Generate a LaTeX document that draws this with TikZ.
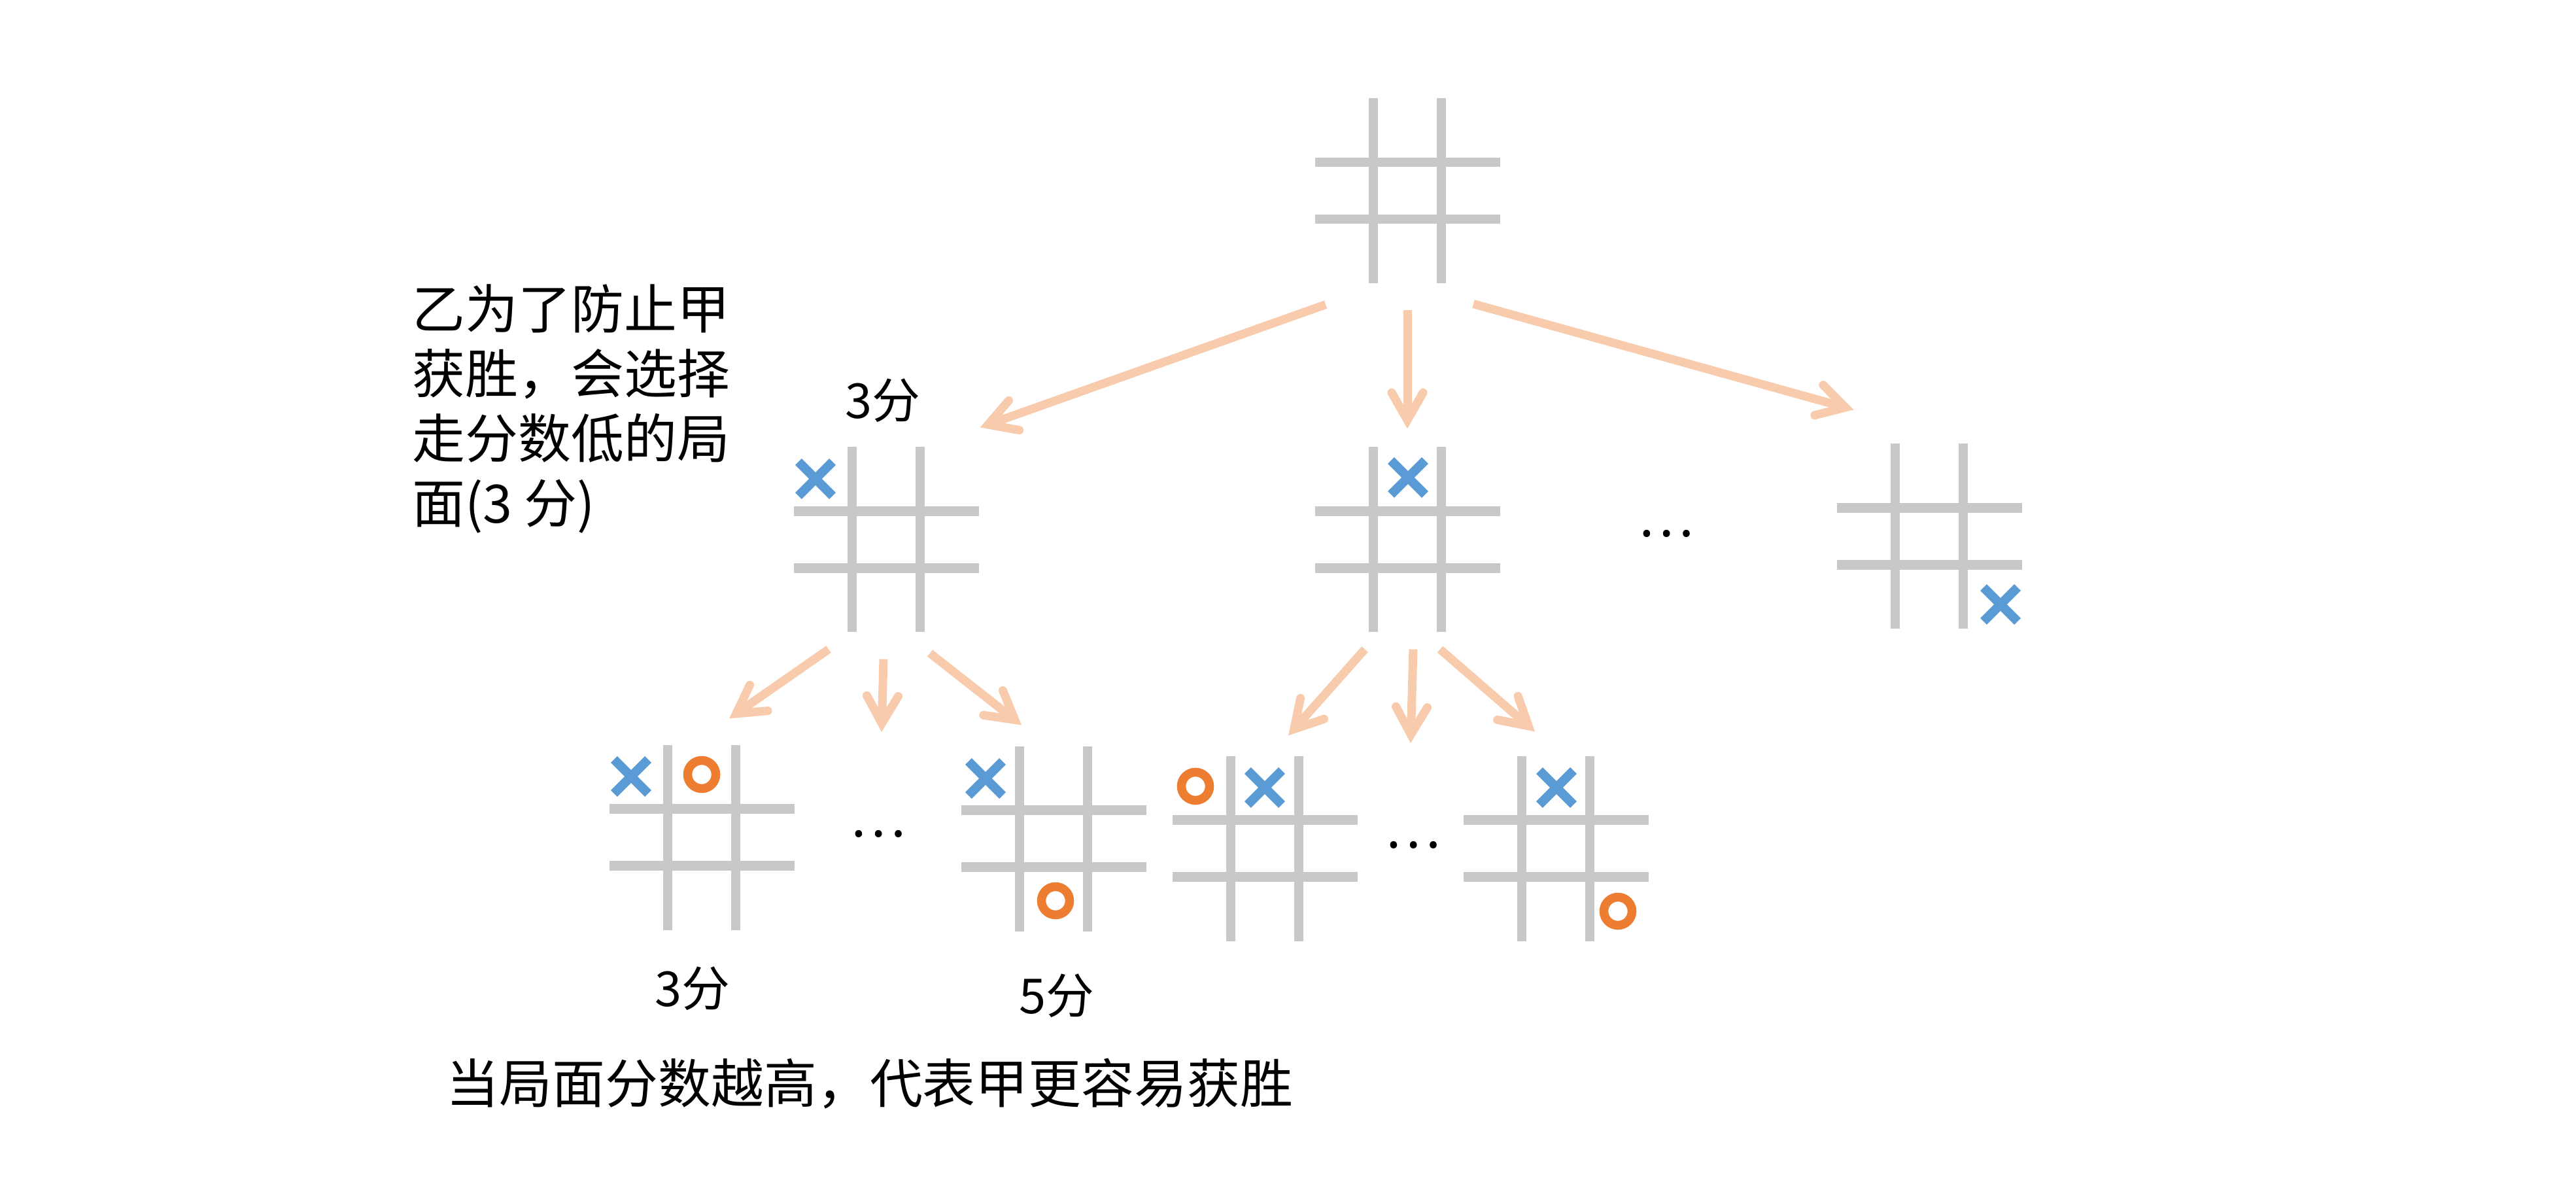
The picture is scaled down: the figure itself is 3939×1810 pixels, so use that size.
\documentclass[tikz,border=0pt]{standalone}
\usepackage{fontspec}
\newfontfamily\cjkfont{Noto Sans CJK SC}
\usetikzlibrary{arrows.meta,calc,shapes.misc}
\definecolor{GridGray}{HTML}{C8C8C8}
\definecolor{ArrowPeach}{HTML}{F8CBAD}
\definecolor{CrossBlue}{HTML}{5B9BD5}
\definecolor{RingOrange}{HTML}{ED7D31}

% grid lines of one board, drawn round a board node
\newcommand\tttgrid[1]{%
  \foreach \dd in {-52,52}
    \draw[gridline] ($(#1.center)+(\dd,-141.5)$) -- ($(#1.center)+(\dd,141.5)$);
  \foreach \dd in {-43.5,43.5}
    \draw[gridline] ($(#1.center)+(-141.5,\dd)$) -- ($(#1.center)+(141.5,\dd)$);
}

\begin{document}
\begin{tikzpicture}[
  x=0.01cm,y=-0.01cm,
  board/.style={rectangle,minimum size=2.83cm,inner sep=0pt,outer sep=0pt},
  gridline/.style={draw=GridGray,line width=0.14cm},
  xmark/.style={cross out,draw=CrossBlue,line width=0.14cm,minimum size=0.38cm,inner sep=0pt},
  omark/.style={circle,draw=RingOrange,line width=0.135cm,minimum size=0.43cm,inner sep=0pt},
  arrow/.style={draw=ArrowPeach,line width=0.13cm,
                -{Straight Barb[length=0.42cm,width=0.48cm,line cap=round,line join=miter]}},
  txt/.style={font=\cjkfont\fontsize{23}{28.2}\selectfont,inner sep=0pt},
  score/.style={font=\cjkfont\fontsize{21}{25}\selectfont,inner sep=0pt}
]
\useasboundingbox (0,0) rectangle (3939,1810);

%% Boards
\node[board] (root)   at (2152,292)  {};
\node[board] (left)   at (1355,825)  {};
\node[board] (middle) at (2152,825)  {};
\node[board] (right)  at (2950,820)  {};
\node[board] (ll)     at (1073,1280) {};
\node[board] (lr)     at (1611,1282) {};
\node[board] (ml)     at (1934,1297) {};
\node[board] (mr)     at (2379,1297) {};
\foreach \b in {root,left,middle,right,ll,lr,ml,mr} {\tttgrid{\b}}

%% Marks
\node[xmark] (leftx)   at (1247,732)  {};
\node[xmark] (middlex) at (2153,730)  {};
\node[xmark] (rightx)  at (3059,924)  {};
\node[xmark] (llx)     at (965,1187)  {};
\node[omark] (llo)     at (1073,1184) {};
\node[xmark] (lrx)     at (1507,1190) {};
\node[omark] (lro)     at (1614,1377) {};
\node[omark] (mlo)     at (1828,1202) {};
\node[xmark] (mlx)     at (1934,1204) {};
\node[xmark] (mrx)     at (2380,1204) {};
\node[omark] (mro)     at (2474,1393) {};

%% Dots
\node[txt] (dotsTop) at (2547,816)  {…};
\node[txt] (dotsL)   at (1342,1275) {…};
\node[txt] (dotsM)   at (2160,1292) {…};

%% Texts
\node[txt,align=left,anchor=west] (note) at (630,625)
  {乙为了防止甲\\获胜，会选择\\走分数低的局\\面(3 分)};
\node[score] (s3top) at (1350,612)  {3分};
\node[score] (s3)    at (1059,1511) {3分};
\node[score] (s5)    at (1616,1522) {5分};
\node[txt] (summary) at (1330,1657) {当局面分数越高，代表甲更容易获胜};

%% Arrows
\draw[arrow] ($(root.south)+(-125,32)$) -- ($(left.north east)+(2,-30)$);
\draw[arrow] ($(root.south)+(0,40)$)    -- ($(middle.north)+(0,-28)$);
\draw[arrow] ($(root.south)+(101,31)$)  -- ($(right.north west)+(26,-52)$);
\draw[arrow] ($(left.south)+(-88,26)$)  -- ($(ll.north)+(42,-40)$);
\draw[arrow] ($(left.south)+(-4,41)$)   -- ($(dotsL.center)+(6,-156)$);
\draw[arrow] ($(left.south)+(67,32)$)   -- ($(lr.north)+(-49,-32)$);
\draw[arrow] ($(middle.south)+(-65,26)$) -- ($(ml.north)+(36,-31)$);
\draw[arrow] ($(middle.south)+(9,26)$)   -- ($(dotsM.center)+(-3,-156)$);
\draw[arrow] ($(middle.south)+(50,26)$)  -- ($(mr.north)+(-32,-37)$);

\end{tikzpicture}
\end{document}
